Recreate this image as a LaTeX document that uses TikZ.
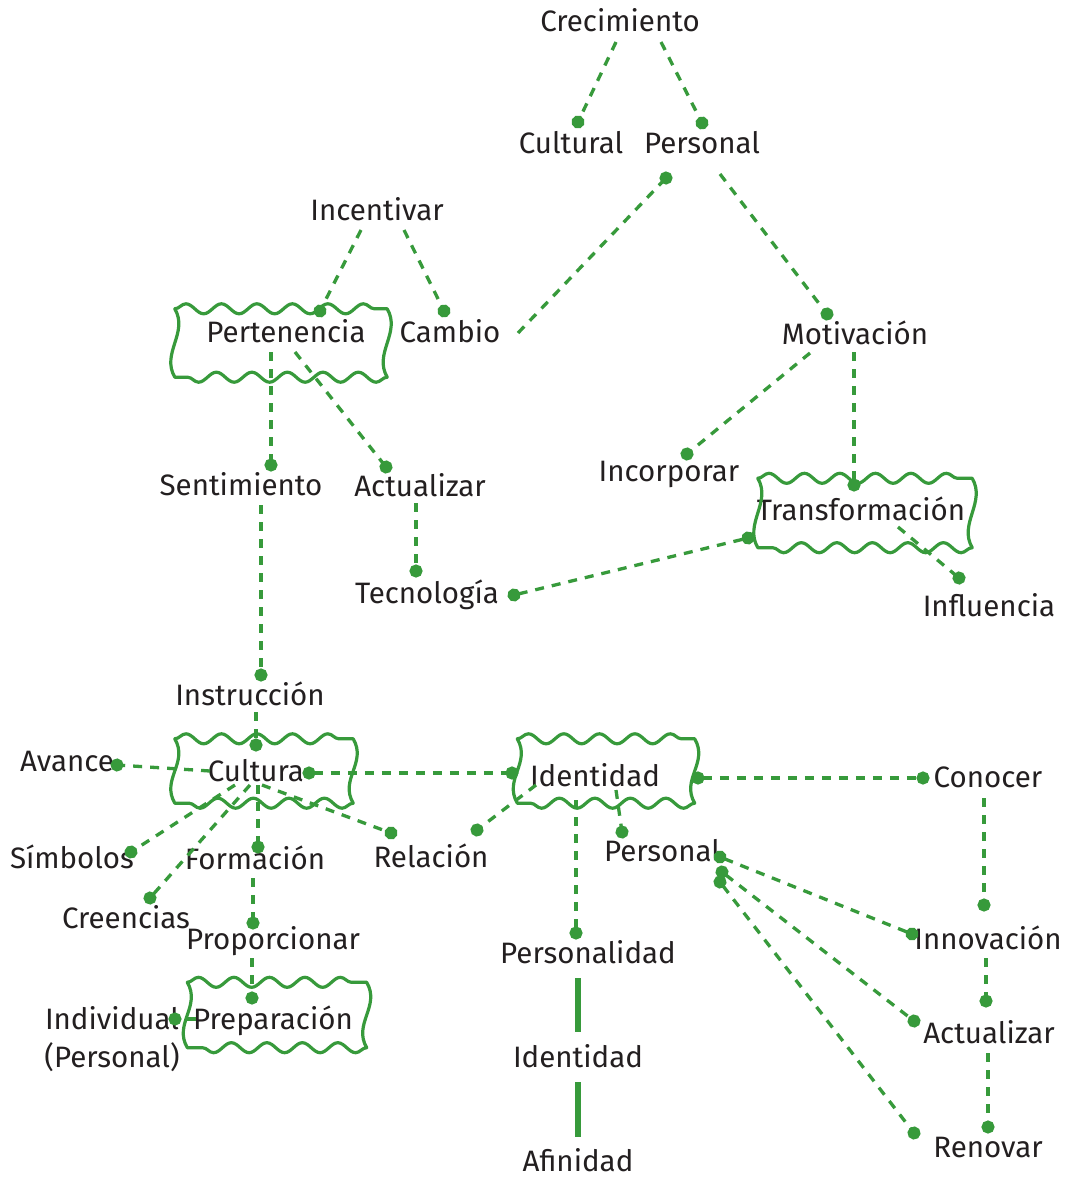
\documentclass[tikz,border=0pt]{standalone}
\usepackage{fontspec}
\setmainfont{Fira Sans}
\usepackage{tikz}
\usetikzlibrary{arrows.meta,calc,decorations.pathmorphing}
\definecolor{cmGreen}{HTML}{379A3B}
\definecolor{cmInk}{HTML}{231F20}
\tikzset{
  concept/.style={text=cmInk,inner sep=0pt,text height=22pt,text depth=2pt,
    align=center,font=\fontsize{29.5}{38}\selectfont},
  wavy box/.style={concept},
  frame line/.style={draw=cmGreen,line width=3.2pt,line join=round,
    decoration={snake,segment length=35.5pt,amplitude=5pt}},
  concept link/.style={draw=cmGreen,line width=3.3pt,dash pattern=on 9pt off 8pt,
    -{Circle[length=13pt]},shorten >=-6.5pt},
  twin link/.style={concept link,{Circle[length=13pt]}-{Circle[length=13pt]},shorten <=-6.5pt},
  bond/.style={draw=cmGreen,line width=6pt}
}
% wavy outline round a named node
\newcommand{\waveframe}[1]{%
  \draw[frame line] (#1.north west) decorate{-- (#1.north east)}
    .. controls ($(#1.north east)+(14,24)$) and ($(#1.south east)+(-14,-24)$) .. (#1.south east)
    decorate{-- (#1.south west)}
    .. controls ($(#1.south west)+(-14,-24)$) and ($(#1.north west)+(14,24)$) .. (#1.north west) -- cycle;}

\begin{document}
\begin{tikzpicture}[x=1pt,y=-1pt]
\useasboundingbox[fill=white] (0,0) rectangle (1067,1177);
% boxes
\node[wavy box,minimum width=212pt,minimum height=68pt] (pert) at (281,343) {\raisebox{11pt}[\height][\depth]{\hspace*{10pt}Pertenencia}};
\node[wavy box,minimum width=214pt,minimum height=69pt] (transf) at (865,513) {\raisebox{3pt}[\height][\depth]{\hspace*{-8pt}Transformación}};
\node[wavy box,minimum width=178pt,minimum height=64pt] (cultura) at (264,771) {\hspace*{-16pt}Cultura};
\node[wavy box,minimum width=177pt,minimum height=64pt] (ident) at (606,771) {\raisebox{-5pt}[\height][\depth]{\hspace*{-22pt}Identidad}};
\node[wavy box,minimum width=179pt,minimum height=65pt] (prepar) at (277,1015) {\raisebox{-4pt}[\height][\depth]{\hspace*{-8pt}Preparación}};
\foreach \b in {pert,transf,cultura,ident,prepar} {\waveframe{\b}}
% plain words
\node[concept] (crec) at (620,22) {Crecimiento};
\node[concept] (cultural) at (571,144) {Cultural};
\node[concept] (personal) at (702,144) {Personal};
\node[concept] (incent) at (377,210) {Incentivar};
\node[concept] (cambio) at (450,332) {Cambio};
\node[concept] (motiv) at (855,334) {Motivación};
\node[concept] (sent) at (241,485) {Sentimiento};
\node[concept] (actual) at (420,486) {Actualizar};
\node[concept] (incorp) at (669,471) {Incorporar};
\node[concept] (tecno) at (427,593) {Tecnología};
\node[concept] (influ) at (989,606) {Influencia};
\node[concept] (instr) at (250,695) {Instrucción};
\node[concept] (avance) at (67,761) {Avance};
\node[concept] (conocer) at (988,777) {Conocer};
\node[concept] (simb) at (72,858) {Símbolos};
\node[concept] (formac) at (255,859) {Formación};
\node[concept] (relac) at (431,857) {Relación};
\node[concept] (pers) at (662,851) {Personal};
\node[concept] (creen) at (126,918) {Creencias};
\node[concept] (propor) at (273,939) {Proporcionar};
\node[concept] (innov) at (988,939) {Innovación};
\node[concept] (persdad) at (588,953) {Personalidad};
\node[concept] (indiv) at (112,1057) {Individual\\(Personal)};
\node[concept] (actual2) at (989,1033) {Actualizar};
\node[concept] (ident2) at (578,1057) {Identidad};
\node[concept] (renov) at (988,1147) {Renovar};
\node[concept] (afin) at (578,1161) {Afinidad};
% links
\draw[concept link] ($(crec)+(-4,20)$) -- ($(cultural)+(7,-22)$);
\draw[concept link] ($(crec)+(41,20)$) -- ($(personal)+(0,-21)$);
\draw[concept link] ($(cambio)+(68,1)$) -- ($(personal)+(-36,34)$);
\draw[concept link] ($(personal)+(18,30)$) -- ($(motiv)+(-28,-20)$);
\draw[concept link] ($(incent)+(-16,20)$) -- ($(pert)+(39,-32)$);
\draw[concept link] ($(incent)+(27,20)$) -- ($(cambio)+(-6,-21)$);
\draw[concept link] ($(pert)+(-10,9)$) -- ($(sent)+(30,-20)$);
\draw[concept link] ($(pert)+(14,9)$) -- ($(actual)+(-34,-19)$);
\draw[concept link] ($(motiv)+(-45,19)$) -- ($(incorp)+(18,-17)$);
\draw[concept link] ($(motiv)+(-1,18)$) -- ($(transf)+(-11,-28)$);
\draw[concept link] ($(transf)+(33,14)$) -- ($(influ)+(-30,-28)$);
\draw[concept link] ($(actual)+(-4,17)$) -- ($(tecno)+(-11,-22)$);
\draw[twin link] ($(tecno)+(87,2)$) -- ($(transf)+(-117,25)$);
\draw[concept link] ($(sent)+(20,20)$) -- ($(instr)+(11,-20)$);
\draw[concept link] ($(instr)+(6,17)$) -- ($(cultura)+(-8,-26)$);
\draw[concept link] ($(cultura)+(-54,0)$) -- ($(avance)+(50,4)$);
\draw[twin link] ($(cultura)+(45,2)$) -- ($(ident)+(-94,2)$);
\draw[concept link] ($(cultura)+(-29,14)$) -- ($(simb)+(59,-6)$);
\draw[concept link] ($(cultura)+(-14,14)$) -- ($(creen)+(24,-20)$);
\draw[concept link] ($(cultura)+(-6,14)$) -- ($(formac)+(3,-12)$);
\draw[concept link] ($(cultura)+(-2,14)$) -- ($(relac)+(-40,-24)$);
\draw[concept link] ($(ident)+(-70,14)$) -- ($(relac)+(46,-27)$);
\draw[twin link] ($(ident)+(92,7)$) -- ($(conocer)+(-65,1)$);
\draw[concept link] ($(ident)+(10,19)$) -- ($(pers)+(-40,-19)$);
\draw[concept link] ($(ident)+(-30,29)$) -- ($(persdad)+(-12,-20)$);
\draw[concept link] ($(conocer)+(-4,21)$) -- ($(innov)+(-4,-34)$);
\draw[twin link] ($(pers)+(58,6)$) -- ($(innov)+(-76,-5)$);
\draw[twin link] ($(pers)+(60,21)$) -- ($(actual2)+(-75,-12)$);
\draw[twin link] ($(pers)+(58,31)$) -- ($(renov)+(-74,-14)$);
\draw[concept link] ($(innov)+(-2,19)$) -- ($(actual2)+(-3,-32)$);
\draw[concept link] ($(actual2)+(-1,20)$) -- ($(renov)+(0,-20)$);
\draw[concept link] ($(formac)+(-2,19)$) -- ($(propor)+(-20,-16)$);
\draw[concept link] ($(propor)+(-21,19)$) -- ($(prepar)+(-25,-17)$);
\draw[concept link] ($(prepar)+(-81,4)$) -- ($(indiv)+(63,-38)$);
\draw[bond] ($(persdad)+(-10,25)$) -- ($(ident2)+(0,-25)$);
\draw[bond] ($(ident2)+(0,25)$) -- ($(afin)+(0,-24)$);
\end{tikzpicture}
\end{document}
